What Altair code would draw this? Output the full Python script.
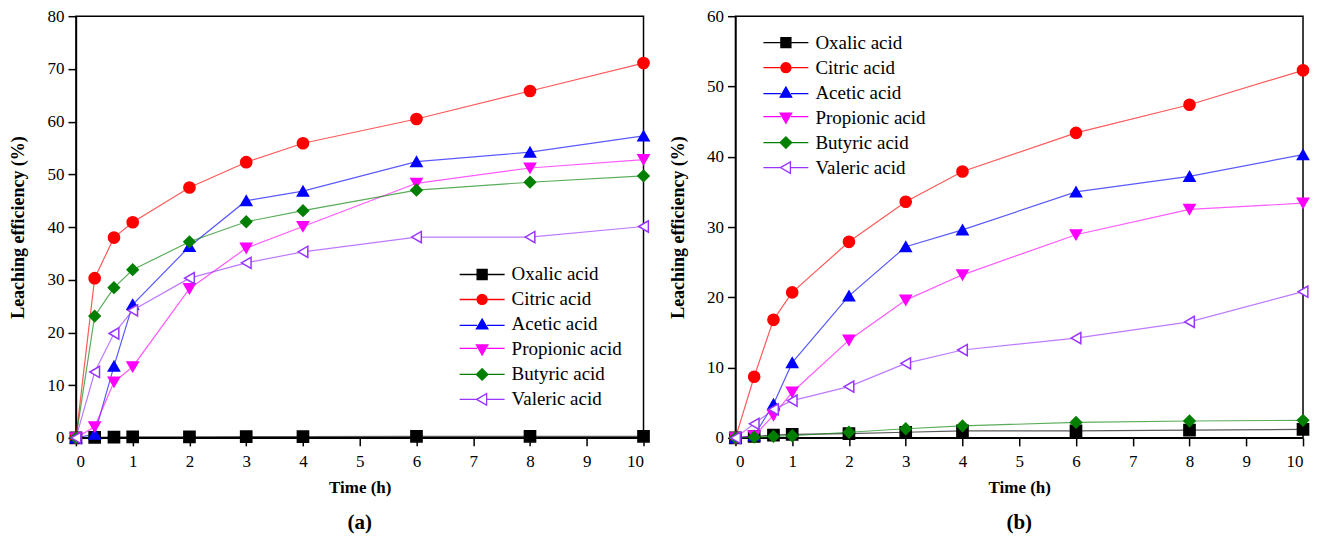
import altair as alt
import pandas as pd

times = [0, 0.33, 0.67, 1, 2, 3, 4, 6, 8, 10]
acids = ["Oxalic acid", "Citric acid", "Acetic acid", "Propionic acid", "Butyric acid", "Valeric acid"]

# Panel (a)
a_oxalic = [0, 0.1, 0.15, 0.2, 0.2, 0.25, 0.25, 0.3, 0.3, 0.3]
a_citric = [0, 30.3, 38.0, 40.9, 47.5, 52.3, 55.9, 60.5, 65.8, 71.1]
a_acetic = [0, 0.7, 13.6, 25.3, 36.3, 45.0, 46.8, 52.4, 54.2, 57.3]
a_propionic = [0, 2.1, 10.6, 13.5, 28.3, 36.0, 40.1, 48.3, 51.2, 52.8]
a_butyric = [0, 23.1, 28.5, 31.9, 37.2, 41.0, 43.1, 47.0, 48.5, 49.7]
a_valeric = [0, 12.5, 19.8, 24.2, 30.3, 33.2, 35.3, 38.1, 38.1, 40.1]

# Panel (b)
b_oxalic = [0, 0.2, 0.4, 0.5, 0.6, 0.8, 1.0, 1.0, 1.1, 1.2]
b_citric = [0, 8.7, 16.8, 20.7, 27.9, 33.6, 37.9, 43.4, 47.4, 52.3]
b_acetic = [0, 0.3, 4.8, 10.7, 20.2, 27.2, 29.6, 35.0, 37.2, 40.3]
b_propionic = [0, 0.3, 3.2, 6.5, 13.9, 19.6, 23.2, 28.9, 32.5, 33.4]
b_butyric = [0, 0.1, 0.2, 0.3, 0.8, 1.3, 1.7, 2.2, 2.4, 2.5]
b_valeric = [0, 2.0, 4.05, 5.3, 7.3, 10.6, 12.5, 14.2, 16.5, 20.8]

stroke_colors = ["#000000", "#FF0000", "#0000FF", "#FF00FF", "#007F00", "#9933FF"]
fill_colors = ["#000000", "#FF0000", "#0000FF", "#FF00FF", "#007F00", "#FFFFFF"]
shapes = ["square", "circle", "triangle-up", "triangle-down", "diamond", "triangle-left"]

# legend glyphs: a short line segment through each marker symbol
legend_glyphs = [
    "M-4.5,0H-1M1,0H4.5M-1,-1H1V1H-1Z",
    "M-4.5,0H-1M1,0H4.5M-1,0A1,1 0 1,0 1,0A1,1 0 1,0 -1,0Z",
    "M-4.5,0.2H-1M1,0.2H4.5M0,-1.1L1.15,0.9L-1.15,0.9Z",
    "M-4.5,-0.2H-1M1,-0.2H4.5M0,1.1L1.15,-0.9L-1.15,-0.9Z",
    "M-4.5,0H-1.1M1.1,0H4.5M0,-1.15L1.15,0L0,1.15L-1.15,0Z",
    "M-4.5,0H-1.1M0.9,0H4.5M-1.1,0L0.9,-1.15L0.9,1.15Z",
]

FONT = "Liberation Serif"


def make_df(series):
    rows = []
    for acid, vals in zip(acids, series):
        for t, v in zip(times, vals):
            rows.append({"time": t, "value": v, "acid": acid})
    return pd.DataFrame(rows)


def panel(df, ymax, label, lx, ly):
    leg = alt.Legend(
        title=None, orient="none", legendX=lx, legendY=ly,
        labelFont=FONT, labelFontSize=19, labelColor="#000000",
        symbolSize=100, symbolStrokeWidth=1.3, rowPadding=5,
        labelOffset=20, symbolOffset=0,
    )
    x = alt.X("time:Q", scale=alt.Scale(domain=[0, 10], nice=False),
              axis=alt.Axis(values=list(range(0, 11)), title="Time (h)", format="d"))
    y = alt.Y("value:Q", scale=alt.Scale(domain=[0, ymax], nice=False),
              axis=alt.Axis(values=list(range(0, ymax + 1, 10)), title="Leaching efficiency (%)"))
    stroke = alt.Stroke("acid:N", scale=alt.Scale(domain=acids, range=stroke_colors), legend=leg)
    fill = alt.Fill("acid:N", scale=alt.Scale(domain=acids, range=fill_colors), legend=leg)
    shape = alt.Shape("acid:N", scale=alt.Scale(domain=acids, range=legend_glyphs), legend=leg)
    base = alt.Chart(df)
    layers = [
        base.mark_line(strokeWidth=1.2, strokeOpacity=0.65).encode(
            x=x, y=y, stroke=stroke, detail="acid:N"
        )
    ]
    for acid, shp in zip(acids, shapes):
        layers.append(
            base.transform_filter(alt.datum.acid == acid).mark_point(
                shape=shp, size=125, filled=False, strokeWidth=1.5, opacity=1, fillOpacity=1
            ).encode(x=x, y=y, stroke=stroke, fill=fill)
        )
    # legend-only layer (no visible marks): carries the symbol glyphs
    layers.append(
        base.transform_filter("false").mark_point(filled=False).encode(
            x=x, y=y, stroke=stroke, fill=fill, shape=shape
        )
    )
    return alt.layer(*layers).properties(
        width=568, height=422,
        title=alt.TitleParams(label, orient="bottom", fontSize=21, font=FONT,
                              fontWeight="bold", offset=16, anchor="middle"),
    )


left = panel(make_df([a_oxalic, a_citric, a_acetic, a_propionic, a_butyric, a_valeric]), 80, "(a)", 397, 249)
right = panel(make_df([b_oxalic, b_citric, b_acetic, b_propionic, b_butyric, b_valeric]), 60, "(b)", 41, 17)

chart = alt.hconcat(left, right, spacing=15).resolve_scale(
    stroke="independent", fill="independent", shape="independent", x="independent", y="independent"
).resolve_legend(
    stroke="independent", fill="independent", shape="independent"
).properties(
    padding={"left": 9, "top": 6, "right": 5, "bottom": 2},
    background="white",
).configure(
    font=FONT
).configure_legend(
    labelFont=FONT, labelFontSize=19, labelColor="#000000"
).configure_view(
    stroke="#000000", strokeWidth=1.5
).configure_axis(
    grid=False, domainColor="#000000", domainWidth=1.5, tickColor="#000000", tickWidth=1.5,
    tickSize=8, labelFont=FONT, labelFontSize=17, labelColor="#000000", labelPadding=4,
    titleFont=FONT, titleFontSize=17, titleFontWeight="bold", titleColor="#000000",
).configure_axisY(
    titlePadding=19, titleFontSize=18,
).configure_axisX(
    labelPadding=8, titlePadding=10,
)

chart.save("out.html", embed_options={"renderer": "svg", "actions": False})
